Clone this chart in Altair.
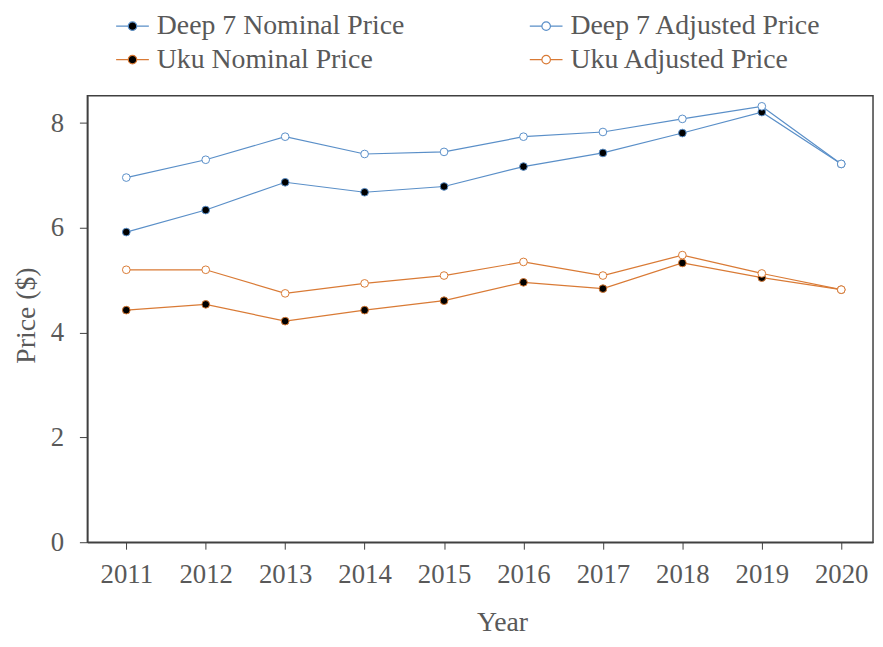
import altair as alt
import pandas as pd

FONT = "Liberation Serif"

years = [2011, 2012, 2013, 2014, 2015, 2016, 2017, 2018, 2019, 2020]
deep7_nominal = [5.92, 6.34, 6.87, 6.68, 6.79, 7.17, 7.43, 7.81, 8.21, 7.22]
deep7_adjusted = [6.96, 7.30, 7.74, 7.41, 7.45, 7.74, 7.83, 8.08, 8.32, 7.22]
uku_nominal = [4.43, 4.54, 4.22, 4.43, 4.61, 4.96, 4.84, 5.33, 5.05, 4.82]
uku_adjusted = [5.20, 5.20, 4.75, 4.94, 5.09, 5.35, 5.09, 5.48, 5.13, 4.82]

# legend fills column by column: column 1 = nominal, column 2 = adjusted
series_names = ["Deep 7 Nominal Price", "Uku Nominal Price",
                "Deep 7 Adjusted Price", "Uku Adjusted Price"]
series_values = [deep7_nominal, uku_nominal, deep7_adjusted, uku_adjusted]
line_colors = ["#5a8fc8", "#d97a35", "#5a8fc8", "#d97a35"]
marker_fills = ["#000000", "#000000", "#ffffff", "#ffffff"]
y_ticks = [0, 2, 4, 6, 8]

rows = []
for name, vals in zip(series_names, series_values):
    for yr, v in zip(years, vals):
        rows.append({"Year": yr, "Price": v, "Series": name})
df = pd.DataFrame(rows)

sym = "M-1,0H-0.26M0.26,0H1M0.26,0A0.26,0.26,0,1,1,-0.26,0A0.26,0.26,0,1,1,0.26,0Z"

legend = alt.Legend(
    title=None, orient="none", legendX=28, legendY=-88, columns=2,
    columnPadding=123, rowPadding=2, symbolType=sym, symbolSize=1089,
    symbolStrokeWidth=1.2, labelFont=FONT, labelFontSize=28, labelLimit=500,
    labelColor="#595959", labelOffset=7, padding=0, symbolOpacity=1,
)

x = alt.X(
    "Year:Q",
    scale=alt.Scale(domain=[2010.51, 2020.4], nice=False, zero=False),
    axis=alt.Axis(
        values=years, format="d", title="Year", labelFlush=False, labelOverlap=False,
        labelFont=FONT, labelFontSize=27, labelColor="#595959", labelPadding=13,
        tickSize=7, tickColor="#404040", domainColor="#404040", domainWidth=1.5,
        titleFont=FONT, titleFontSize=28, titleColor="#595959", titleFontWeight="normal",
        titleX=418, titleY=89, titleBaseline="alphabetic", titleAlign="center", grid=False,
    ),
)
y = alt.Y(
    "Price:Q",
    scale=alt.Scale(domain=[0, 8.52], nice=False),
    axis=alt.Axis(
        values=y_ticks, title="Price ($)", labelFont=FONT, labelFontSize=27,
        labelColor="#595959", labelPadding=16, tickSize=8, tickColor="#404040",
        domainColor="#404040", domainWidth=1.5, titleFont=FONT, titleFontSize=28,
        titleColor="#595959", titleFontWeight="normal", titleX=-61, titleY=221,
        titleAngle=-90, titleBaseline="middle", titleAlign="center", grid=False,
    ),
)

stroke = alt.Stroke("Series:N", scale=alt.Scale(domain=series_names, range=line_colors), legend=legend)
fill = alt.Fill("Series:N", scale=alt.Scale(domain=series_names, range=marker_fills), legend=legend)

lines = alt.Chart(df).mark_line(strokeWidth=1.2).encode(x=x, y=y, stroke=stroke)
points = alt.Chart(df).mark_point(filled=False, size=60, strokeWidth=1, opacity=1, shape="circle").encode(
    x=x, y=y, stroke=stroke, fill=fill
)

chart = alt.layer(lines, points).properties(
    width=792, height=450,
    autosize=alt.AutoSizeParams(type="none"),
    padding={"left": 80, "top": 86, "right": 2, "bottom": 94},
    background="white",
).configure_view(stroke="#404040", strokeWidth=1.5)

chart.save("out.html", embed_options={"renderer": "svg", "actions": False})
